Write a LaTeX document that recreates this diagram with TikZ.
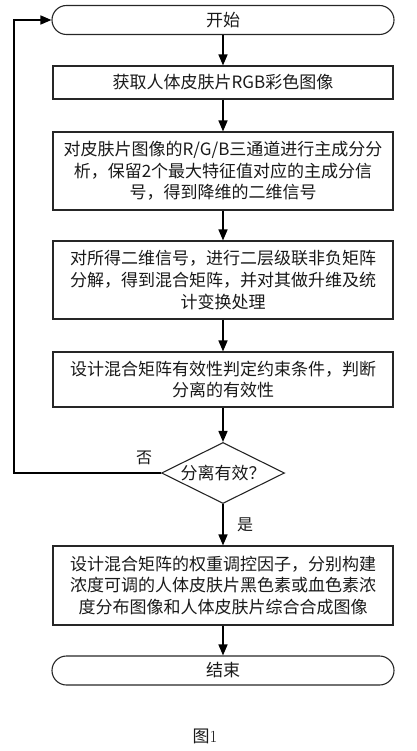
\documentclass[tikz,border=0pt]{standalone}
\usepackage{fontspec}
\setmainfont{Noto Sans CJK SC}
\usetikzlibrary{shapes.geometric,arrows.meta}
\begin{document}
\begin{tikzpicture}[x=1pt,y=-1pt,
  every node/.style={font=\fontsize{17}{21.7}\selectfont, text=black!90},
  proc/.style={draw=black!85, line width=1.1pt, rectangle, minimum width=340pt, align=center, inner sep=0pt},
  term/.style={draw=black!85, line width=1.1pt, rectangle, rounded corners=14.5pt, minimum width=342pt, minimum height=29pt, inner sep=0pt},
  dec/.style={draw=black!85, line width=1.1pt, diamond, aspect=2, minimum width=123pt, minimum height=61pt, inner sep=0pt},
  arr/.style={line width=1.5pt, -{Triangle[length=11pt,width=9pt]}},
  lbl/.style={font=\fontsize{16}{18}\selectfont}]
\useasboundingbox (0,0) rectangle (416,751);
\node[term] (start) at (223,20) {开始};
\node[proc, minimum height=33pt] (b1) at (223,82.5) {获取人体皮肤片RGB彩色图像};
\node[proc, minimum height=78pt] (b2) at (223,171) {对皮肤片图像的R/G/B三通道进行主成分分\\析，保留2个最大特征值对应的主成分信\\号，得到降维的二维信号};
\node[proc, minimum height=78pt] (b3) at (223,280) {对所得二维信号，进行二层级联非负矩阵\\分解，得到混合矩阵，并对其做升维及统\\计变换处理};
\node[proc, minimum height=55pt] (b4) at (223,379.5) {设计混合矩阵有效性判定约束条件，判断\\分离的有效性};
\node[dec] (d) at (223,473) {分离有效？};
\node[proc, minimum height=79pt] (b5) at (223,585.5) {设计混合矩阵的权重调控因子，分别构建\\浓度可调的人体皮肤片黑色素或血色素浓\\度分布图像和人体皮肤片综合合成图像};
\node[term] (end) at (223,670.5) {结束};
\coordinate (c1) at (14,473);
\coordinate (c2) at (14,20);
\draw[arr] (start) -- (b1);
\draw[arr] (b1) -- (b2);
\draw[arr] (b2) -- (b3);
\draw[arr] (b3) -- (b4);
\draw[arr] (b4) -- (d);
\draw[arr] (d) -- (b5);
\draw[arr] (b5) -- (end);
\draw[arr] (d.west) -- (c1) -- (c2) -- (start.west);
\node[lbl] (no) at (144,458) {否};
\node[lbl] (yes) at (245,525) {是};
\node[font=\fontsize{17}{20}\selectfont] (cap) at (205,736) {图\fontspec{Latin Modern Roman}1};
\end{tikzpicture}
\end{document}
